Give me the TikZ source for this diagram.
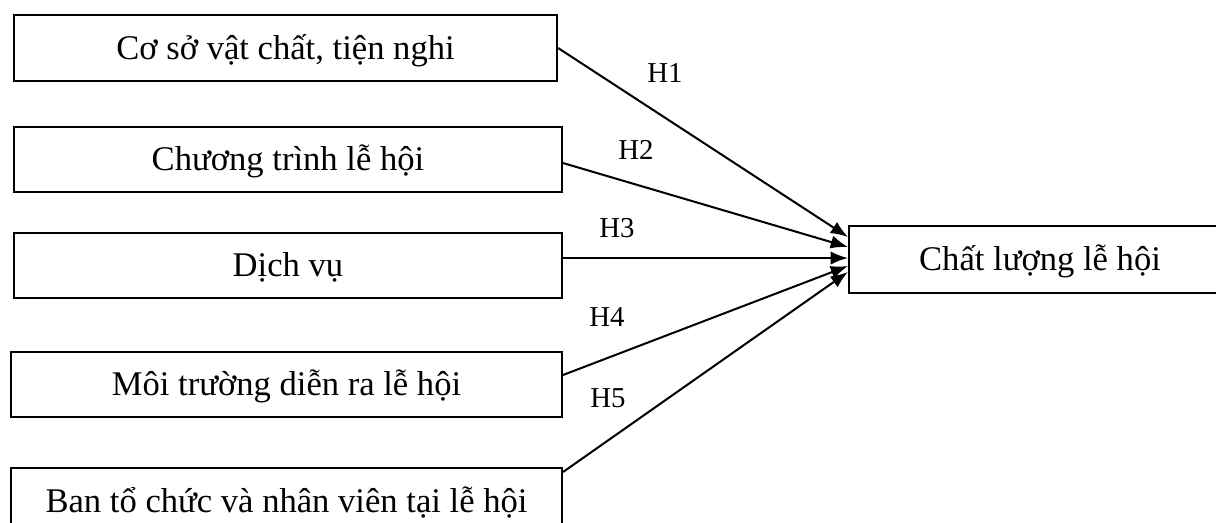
\documentclass[tikz,border=0pt]{standalone}
\usepackage{fontspec}
\setmainfont{Liberation Serif}
\usetikzlibrary{arrows.meta}

\begin{document}
\begin{tikzpicture}
\useasboundingbox (0,0) rectangle (14.822,-6.363);

\begin{scope}[every node/.style={rectangle,draw,line width=0.7pt,
              minimum width=6.68cm,minimum height=0.792cm,inner sep=0pt,
              text height=7.9pt,text depth=0pt,
              font=\fontsize{12}{14}\selectfont}]
    \node[minimum width=6.62cm,minimum height=0.804cm] (B1) at (3.480,-0.585) {Cơ sở vật chất, tiện nghi};
    \node (B2) at (3.510,-1.944) {Chương trình lễ hội};
    \node (B3) at (3.510,-3.236) {Dịch vụ};
    \node[minimum width=6.716cm] (B4) at (3.492,-4.687) {Môi trường diễn ra lễ hội};
    \node[minimum width=6.716cm,minimum height=0.804cm] (B5) at (3.492,-6.107) {Ban tổ chức và nhân viên tại lễ hội};
    \node[minimum width=4.656cm,minimum height=0.817cm] (Q) at (12.677,-3.163) {Chất lượng lễ hội};
\end{scope}

\begin{scope}[>={Latex[length=6pt,width=4.6pt]},
              every edge/.style={draw,line width=0.7pt}]
    \path [->] (B1.east) edge ([yshift=0.274cm]Q.west);
    \path [->] ([yshift=-0.043cm]B2.east) edge ([yshift=0.152cm]Q.west);
    \path [->] ([yshift=0.091cm]B3.east) edge ([yshift=0.018cm]Q.west);
    \path [->] ([yshift=0.116cm]B4.east) edge ([yshift=-0.079cm]Q.west);
    \path [->] ([yshift=-0.061cm]B5.north east) edge ([yshift=-0.152cm]Q.west);
\end{scope}

\node (H1) at (8.106,-0.890) {H1};
\node (H2) at (7.752,-1.828) {H2};
\node (H3) at (7.521,-2.779) {H3};
\node (H4) at (7.399,-3.864) {H4};
\node (H5) at (7.411,-4.851) {H5};
\end{tikzpicture}
\end{document}
